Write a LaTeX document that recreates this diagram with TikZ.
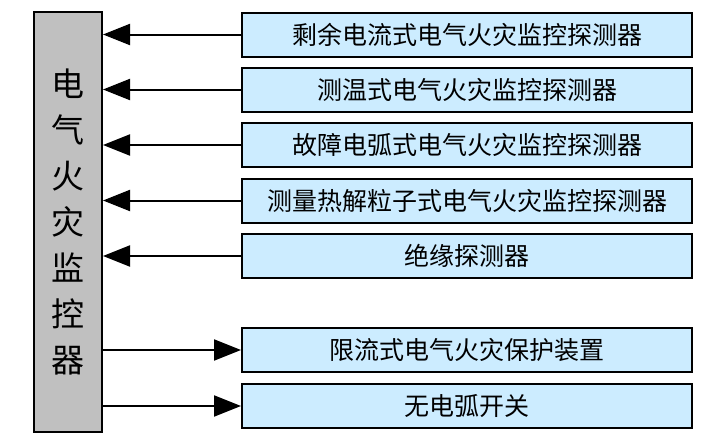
\documentclass[tikz,border=0pt]{standalone}
\usepackage{fontspec}
\newfontfamily\cjk{Noto Sans CJK SC}
\usetikzlibrary{arrows.meta}
\definecolor{detblue}{RGB}{204,236,255}
\definecolor{mongray}{RGB}{192,192,192}
\tikzset{
        det/.style={draw, line width=2pt, fill=detblue, minimum width=450pt, minimum height=44pt, inner sep=0pt, font=\cjk\fontsize{25pt}{25pt}\selectfont},
        mon/.style={draw, line width=2pt, fill=mongray, minimum width=68pt, minimum height=420pt, inner sep=0pt, align=center, font=\cjk\fontsize{33pt}{46pt}\selectfont},
        sig/.style={line width=2pt, -{Triangle[length=27pt,width=21pt]}}
}
\begin{document}
\begin{tikzpicture}[x=1pt,y=-1pt]
        \useasboundingbox (0,0) rectangle (722,442);
        \node (m) [mon] at (68,222) {电\\气\\火\\灾\\监\\控\\器};
        \node (d1) [det] at (467,34.5) {剩余电流式电气火灾监控探测器};
        \node (d2) [det] at (467,89.5) {测温式电气火灾监控探测器};
        \node (d3) [det] at (467,145) {故障电弧式电气火灾监控探测器};
        \node (d4) [det] at (467,200.5) {测量热解粒子式电气火灾监控探测器};
        \node (d5) [det] at (467,256) {绝缘探测器};
        \node (p1) [det] at (467,350) {限流式电气火灾保护装置};
        \node (p2) [det] at (467,406) {无电弧开关};
        % detectors report to the monitor
        \draw [sig] (d1.west) -- (d1.west -| m.east);
        \draw [sig] (d2.west) -- (d2.west -| m.east);
        \draw [sig] (d3.west) -- (d3.west -| m.east);
        \draw [sig] (d4.west) -- (d4.west -| m.east);
        \draw [sig] (d5.west) -- (d5.west -| m.east);
        % monitor drives the protection devices
        \draw [sig] (p1.west -| m.east) -- (p1.west);
        \draw [sig] (p2.west -| m.east) -- (p2.west);
\end{tikzpicture}
\end{document}
